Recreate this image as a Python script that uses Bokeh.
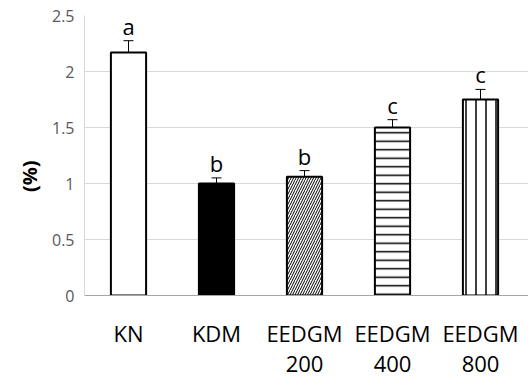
from bokeh.plotting import figure
from bokeh.models import ColumnDataSource, Range1d, FixedTicker, Whisker, TeeHead
from bokeh.core.properties import value
from bokeh.embed import file_html
from bokeh.resources import INLINE

groups = ["KN", "KDM", "EEDGM\n200", "EEDGM\n400", "EEDGM\n800"]
means = [2.17, 1.00, 1.06, 1.50, 1.75]
errors = [0.105, 0.05, 0.055, 0.07, 0.09]
letters = ["a", "b", "b", "c", "c"]
y_ticks = [0, 0.5, 1, 1.5, 2, 2.5]
y_tick_labels = ["0", "0.5", "1", "1.5", "2", "2.5"]

fills = ["white", "black", "white", "white", "white"]
hatches = [" ", " ", "right_diagonal_line", "horizontal_line", "vertical_line"]
hatch_scales = [6, 6, 5, 8.5, 10]
hatch_weights = [1, 1, 1, 1.5, 1.5]

xs = list(range(len(groups)))
src = ColumnDataSource(dict(
    x=xs, top=means,
    upper=[m + e for m, e in zip(means, errors)],
    lower=[m - e for m, e in zip(means, errors)],
    letter=letters, fill=fills, hatch=hatches,
    hscale=hatch_scales, hweight=hatch_weights,
))

p = figure(width=528, height=380, output_backend="svg", toolbar_location=None,
           x_range=Range1d(-0.5, 444 / 88 - 0.5), y_range=Range1d(0, 2.5),
           min_border_left=84, min_border_right=0, min_border_top=15, min_border_bottom=81)
p.outline_line_color = None
p.background_fill_color = "white"

p.vbar(x="x", top="top", width=0.4, bottom=0, source=src,
       fill_color="fill", line_color="black", line_width=2,
       hatch_pattern="hatch", hatch_scale="hscale", hatch_weight="hweight",
       hatch_color="black")

w = Whisker(base="x", upper="upper", lower="lower", source=src,
            line_color="black", line_width=1,
            upper_head=TeeHead(size=10, line_color="black", line_width=1),
            lower_head=TeeHead(size=10, line_color="black", line_width=1))
p.add_layout(w)

p.text(x="x", y="upper", text="letter", source=src, y_offset=-15,
       text_align="center", text_baseline="alphabetic",
       text_font=value("Open Sans"), text_font_size="22px", text_color="black")

# axes
p.xaxis.ticker = FixedTicker(ticks=xs)
p.xaxis.major_label_overrides = {i: g for i, g in enumerate(groups)}
p.xaxis.major_tick_line_color = None
p.xaxis.minor_tick_line_color = None
p.xaxis.major_tick_out = 0
p.xaxis.major_tick_in = 0
p.xaxis.axis_line_color = "#a6a6a6"
p.xaxis.axis_line_width = 1
p.xaxis.major_label_text_font = "Open Sans"
p.xaxis.major_label_text_font_size = "22px"
p.xaxis.major_label_text_color = "black"
p.xaxis.major_label_standoff = 22
p.xaxis.major_label_text_line_height = 1.0

p.yaxis.ticker = FixedTicker(ticks=y_ticks)
p.yaxis.major_label_overrides = {t: l for t, l in zip(y_ticks, y_tick_labels)}
p.yaxis.major_tick_line_color = None
p.yaxis.minor_tick_line_color = None
p.yaxis.major_tick_out = 0
p.yaxis.major_tick_in = 0
p.yaxis.axis_line_color = "#d9d9d9"
p.yaxis.major_label_text_font = "Open Sans"
p.yaxis.major_label_text_font_size = "16px"
p.yaxis.major_label_text_color = "#595959"
p.yaxis.major_label_standoff = 10
p.yaxis.axis_label = "(%)" + "\u00a0" * 8
p.yaxis.axis_label_text_font = "Open Sans"
p.yaxis.axis_label_text_font_size = "20px"
p.yaxis.axis_label_text_font_style = "bold"
p.yaxis.axis_label_text_color = "black"
p.yaxis.axis_label_standoff = 6

p.xgrid.grid_line_color = None
p.ygrid.grid_line_color = "#d9d9d9"
p.ygrid.grid_line_width = 1

open("out.html", "w").write(file_html(p, INLINE))
